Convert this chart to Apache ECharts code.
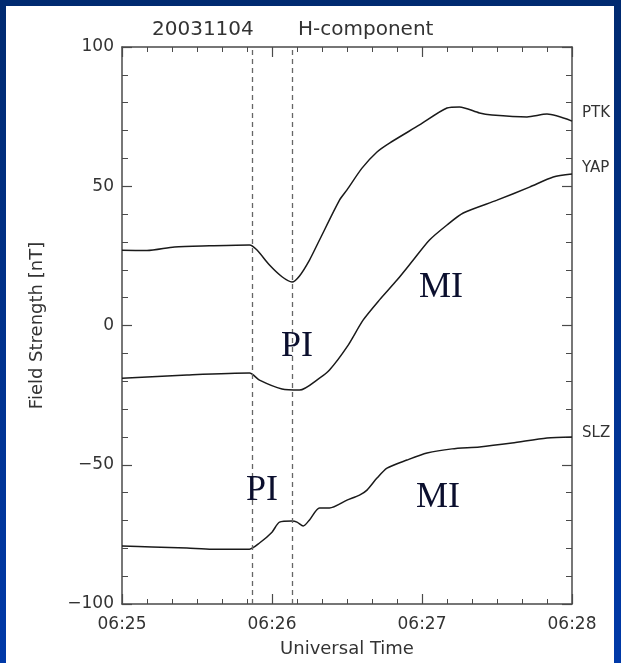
<!DOCTYPE html>
<html>
<head>
<meta charset="utf-8">
<script src="https://cdn.jsdelivr.net/npm/echarts@6/dist/echarts.min.js"></script>
<style>
    html, body { margin: 0; width: 621px; height: 663px; }
    html { background: linear-gradient(to bottom, #002a70, #0039a8); }
    body { position: relative; overflow: hidden; }
    #paper { position: absolute; left: 6px; top: 6px; width: 608px; height: 657px; background: #fff; }
    #main { position: absolute; left: 0; top: 0; width: 621px; height: 663px; }
</style>
</head>
<body>
<div id="paper"></div>
<div id="main"></div>
<script>
// 时间单位：自 06:25:00 起的秒数
var xTickLabels = ['06:25', '06:26', '06:27', '06:28'];
var yTickLabels = ['\u2212100', '\u221250', '0', '50', '100'];

var ptkTime  = [0, 10, 21, 35, 51, 54, 59, 64, 68, 71, 75, 79, 87, 90, 96, 102, 107, 119, 130, 135, 143, 148, 162, 170, 180];
var ptkValue = [27.0, 26.9, 28.2, 28.6, 28.9, 27.1, 21.7, 17.5, 15.6, 17.8, 23.5, 30.7, 45, 48.7, 56.5, 62.3, 65.5, 72, 78.1, 78.5, 76.3, 75.6, 74.9, 75.9, 73.4];

var yapTime  = [0, 26, 51, 55, 64, 71, 79, 83, 90, 96.5, 103, 110, 116.5, 123, 130, 136.5, 150, 163, 172.5, 180];
var yapValue = [-18.9, -17.8, -17.1, -19.6, -22.8, -23.2, -18.9, -16, -7.7, 2, 9.2, 16.3, 23.5, 30.7, 36.1, 40.4, 45, 49.7, 53.3, 54.4];

var slzTime  = [0, 12, 26, 36, 51, 55, 60, 63, 68, 70, 72.5, 75, 79, 83, 90, 95, 98, 102, 106, 114, 122, 132, 143, 156, 170, 180];
var slzValue = [-79.2, -79.5, -79.9, -80.3, -80.3, -78.1, -74.2, -70.6, -70.2, -70.6, -72, -69.8, -65.5, -65.5, -62.7, -60.9, -59.1, -54.8, -51.2, -48.3, -45.8, -44.3, -43.6, -42.2, -40.4, -40.0];

// 虚线位置（秒）
var eventTimes = [52, 68];

// 标注文字 PI / MI
var noteText  = ['PI', 'MI', 'PI', 'MI'];
var noteTime  = [70, 127.6, 56, 126.4];
var noteValue = [-7.7, 13.5, -59.1, -61.6];

function pairs(t, v) {
    return t.map(function (x, i) { return [x, v[i]]; });
}

var myChart = echarts.init(document.getElementById('main'));

var axisColor = '#4a4a4a';
var labelFont = { color: '#333', fontSize: 17, fontFamily: 'DejaVu Sans' };

function xAxisCfg(pos, showLabel) {
    return {
        type: 'value', position: pos, min: 0, max: 180, interval: 60,
        axisLine: { onZero: false, lineStyle: { color: axisColor, width: 1.5 } },
        axisTick: { inside: true, length: 10, lineStyle: { color: axisColor, width: 1.2 } },
        minorTick: { show: true, splitNumber: 6, length: 5, lineStyle: { color: axisColor, width: 1 } },
        splitLine: { show: false },
        axisLabel: Object.assign({
            show: showLabel, margin: 12,
            formatter: function (v) { return xTickLabels[Math.round(v / 60)]; }
        }, labelFont),
        name: showLabel ? 'Universal Time' : '',
        nameLocation: 'middle', nameGap: 36,
        nameTextStyle: { color: '#333', fontSize: 18, fontFamily: 'DejaVu Sans' }
    };
}

function yAxisCfg(pos, showLabel) {
    return {
        type: 'value', position: pos, min: -100, max: 100, interval: 50,
        axisLine: { onZero: false, lineStyle: { color: axisColor, width: 1.5 } },
        axisTick: { inside: true, length: 10, lineStyle: { color: axisColor, width: 1.2 } },
        minorTick: { show: true, splitNumber: 5, length: 6, lineStyle: { color: axisColor, width: 1 } },
        splitLine: { show: false },
        axisLabel: Object.assign({
            show: showLabel, margin: 8,
            formatter: function (v) { return yTickLabels[Math.round((v + 100) / 50)]; }
        }, labelFont),
        name: showLabel ? 'Field Strength [nT]' : '',
        nameLocation: 'middle', nameGap: 76,
        nameTextStyle: { color: '#333', fontSize: 18, fontFamily: 'DejaVu Sans' }
    };
}

function lineSeries(name, t, v, offsetY) {
    return {
        name: name, type: 'line', xAxisIndex: 0, yAxisIndex: 0,
        data: pairs(t, v), showSymbol: false, smooth: 0.25,
        lineStyle: { color: '#1a1a1a', width: 1.5 },
        endLabel: {
            show: true, formatter: name, distance: 10, offset: [0, offsetY],
            color: '#333', fontSize: 15, fontFamily: 'DejaVu Sans'
        },
        animation: false
    };
}

var series = [
    lineSeries('PTK', ptkTime, ptkValue, -8),
    lineSeries('YAP', yapTime, yapValue, -6),
    lineSeries('SLZ', slzTime, slzValue, -4)
];

series[0].markLine = {
    silent: true, symbol: 'none', animation: false,
    label: { show: false },
    lineStyle: { color: '#666', width: 1.3, type: [5, 4] },
    data: eventTimes.map(function (t) { return { xAxis: t }; })
};

series[2].markPoint = {
    symbol: 'circle', symbolSize: 0, animation: false,
    label: {
        show: true, position: 'inside', formatter: function (p) { return p.name; },
        color: '#0b0f2e', fontSize: 36, fontFamily: 'Liberation Serif'
    },
    data: noteText.map(function (s, i) { return { name: s, coord: [noteTime[i], noteValue[i]] }; })
};

var option = {
    animation: false,
    title: [
        { text: '20031104', left: 147, top: 15, textStyle: { color: '#333', fontSize: 20, fontWeight: 'normal', fontFamily: 'DejaVu Sans' } },
        { text: 'H-component', left: 293, top: 15, textStyle: { color: '#333', fontSize: 20, fontWeight: 'normal', fontFamily: 'DejaVu Sans' } }
    ],
    grid: { left: 122, right: 49, top: 47, bottom: 59 },
    xAxis: [xAxisCfg('bottom', true), xAxisCfg('top', false)],
    yAxis: [yAxisCfg('left', true), yAxisCfg('right', false)],
    series: series
};

myChart.setOption(option);
</script>
</body>
</html>
